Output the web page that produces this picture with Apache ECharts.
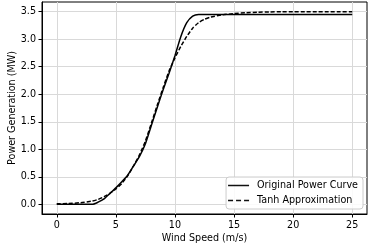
<!DOCTYPE html>
<html>
<head>
<meta charset="utf-8">
<script src="https://cdn.jsdelivr.net/npm/echarts@6/dist/echarts.min.js"></script>
<style>
html,body{margin:0;padding:0;background:#fff;}
#chart{width:374px;height:246px;}
</style>
</head>
<body>
<div id="chart"></div>
<script>
// Data
const windSpeeds = [0,1,2,3,3.5,4,4.5,5,5.5,6,6.5,7,7.5,8,8.5,9,9.5,10,10.5,11,11.5,12,12.5,13,14,15,16,17,18,19,20,21,22,23,24,25];
const originalPower = [0,0,0,0,0.04,0.1,0.2,0.3,0.41,0.53,0.7,0.87,1.1,1.43,1.76,2.08,2.38,2.7,3.05,3.3,3.42,3.45,3.45,3.45,3.45,3.45,3.45,3.45,3.45,3.45,3.45,3.45,3.45,3.45,3.45,3.45];
const tanhPower = [0.01,0.015,0.03,0.06,0.09,0.14,0.2,0.28,0.38,0.52,0.7,0.9,1.15,1.47,1.8,2.12,2.42,2.66,2.87,3.05,3.2,3.3,3.36,3.4,3.44,3.465,3.48,3.49,3.495,3.5,3.5,3.5,3.5,3.5,3.5,3.5];
const xTicks = [0,5,10,15,20,25];
const yTicks = [0,0.5,1,1.5,2,2.5,3,3.5];
const seriesNames = ['Original Power Curve','Tanh Approximation'];
const xLabel = 'Wind Speed (m/s)';
const yLabel = 'Power Generation (MW)';

const font = 'DejaVu Sans';
const fs = 9.6;
const chart = echarts.init(document.getElementById('chart'), null, {renderer:'canvas'});
const pairs = (xs, ys) => xs.map((x,i)=>[x, ys[i]]);

const solidIcon = 'path://M0,0L21,0L21,1.5L0,1.5Z';
const dashIcon = 'path://M0,0L5,0L5,1.5L0,1.5Z M8,0L13,0L13,1.5L8,1.5Z M16,0L21,0L21,1.5L16,1.5Z';

const option = {
  animation: false,
  backgroundColor: '#fff',
  textStyle: {fontFamily: font},
  grid: {left: 42, right: 7, top: 2, bottom: 32, containLabel: false, outerBoundsMode: 'none',
    show: true, borderColor: '#000', borderWidth: 1, backgroundColor: 'transparent'},
  xAxis: {
    type: 'value', min: -1.25, max: 26.25,
    name: xLabel, nameLocation: 'middle', nameGap: 19, nameMoveOverlap: false,
    nameTextStyle: {fontFamily: font, fontSize: fs, color: '#000'},
    axisLine: {show: true, onZero: false, lineStyle: {color: '#000', width: 1}},
    axisTick: {show: true, inside: false, length: 3.5, customValues: xTicks, lineStyle: {color: '#000'}},
    axisLabel: {customValues: xTicks, margin: 6, fontFamily: font, fontSize: fs, color: '#000'},
    splitLine: {show: true, lineStyle: {color: '#d9d9d9', width: 1}}
  },
  yAxis: {
    type: 'value', min: -0.175, max: 3.675,
    name: yLabel, nameLocation: 'middle', nameGap: 25, nameMoveOverlap: false,
    nameTextStyle: {fontFamily: font, fontSize: fs, color: '#000'},
    axisLine: {show: true, onZero: false, lineStyle: {color: '#000', width: 1}},
    axisTick: {show: true, inside: false, length: 3.5, customValues: yTicks, lineStyle: {color: '#000'}},
    axisLabel: {customValues: yTicks, margin: 6, fontFamily: font, fontSize: fs, color: '#000',
      formatter: v => v.toFixed(1)},
    splitLine: {show: true, lineStyle: {color: '#d9d9d9', width: 1}}
  },
  legend: {
    orient: 'vertical', right: 11, top: 177,
    itemWidth: 21, itemHeight: 1.5, itemGap: 4,
    padding: [3,5,3,2],
    backgroundColor: 'rgba(255,255,255,0.85)',
    borderColor: '#cccccc', borderWidth: 1, borderRadius: 3,
    textStyle: {fontFamily: font, fontSize: fs, color: '#000', lineHeight: 11, padding: [0,0,0,3]},
    data: [
      {name: seriesNames[0], icon: solidIcon, itemStyle: {color: '#111'}},
      {name: seriesNames[1], icon: dashIcon, itemStyle: {color: '#111'}}
    ]
  },
  series: [{
    name: seriesNames[0], type: 'line',
    data: pairs(windSpeeds, originalPower),
    showSymbol: false, symbol: 'none', smooth: 0.2,
    lineStyle: {color: '#000', width: 1.5, type: 'solid'},
    itemStyle: {color: '#000'}
  },{
    name: seriesNames[1], type: 'line',
    data: pairs(windSpeeds, tanhPower),
    showSymbol: false, symbol: 'none', smooth: 0.2,
    lineStyle: {color: '#000', width: 1.5, type: [4,2]},
    itemStyle: {color: '#000'}
  }]
};
chart.setOption(option);
</script>
</body>
</html>
